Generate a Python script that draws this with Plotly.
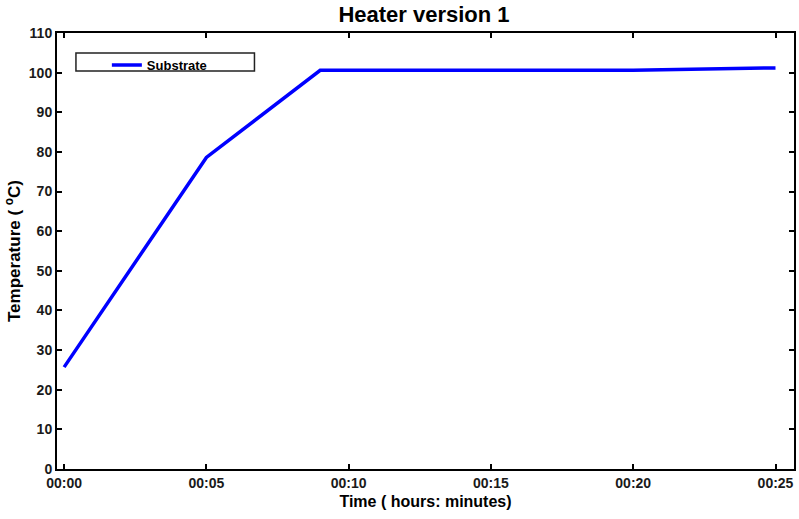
import plotly.graph_objects as go

minutes = [0, 5, 9, 20, 25]
temperature = [25.7, 78.6, 100.6, 100.6, 101.2]
x_tick_vals = [0, 5, 10, 15, 20, 25]
x_tick_text = ["00:00", "00:05", "00:10", "00:15", "00:20", "00:25"]
series_name = "Substrate"

font_fam = "Liberation Sans, Arial, sans-serif"

fig = go.Figure()
fig.add_trace(go.Scatter(x=minutes, y=temperature, mode="lines", name=series_name,
                         line=dict(color="#0000ff", width=3.5)))

axis_common = dict(showline=True, linecolor="black", linewidth=2, mirror="ticks",
                   ticks="inside", ticklen=5, tickwidth=1.5, tickcolor="black",
                   showgrid=False, zeroline=False,
                   tickfont=dict(family=font_fam, size=14, color="#1a1a1a", weight="bold"))

fig.update_layout(
    width=799, height=519,
    margin=dict(l=57, r=3, t=33, b=50),
    paper_bgcolor="white", plot_bgcolor="white",
    title=dict(text="Heater version 1", x=424/799, xanchor="center", y=1 - 14/519, yanchor="middle",
               font=dict(family=font_fam, size=22, color="black", weight="bold")),
    xaxis=dict(range=[-0.25, 25.65], tickvals=x_tick_vals, ticktext=x_tick_text,
               title=dict(text="Time ( hours: minutes)", standoff=6,
                          font=dict(family=font_fam, size=16, color="black", weight="bold")),
               **axis_common),
    yaxis=dict(range=[0, 110], dtick=10,
               title=dict(text="Temperature ( <sup>o</sup>C)", standoff=4,
                          font=dict(family=font_fam, size=17, color="black", weight="bold")),
               **axis_common),
    showlegend=True,
    legend=dict(x=(107 - 57) / 739, y=1 - (50 - 33) / 436, xanchor="left", yanchor="top",
                bgcolor="rgba(0,0,0,0)", borderwidth=0,
                font=dict(family=font_fam, size=13, color="black", weight="bold")),
    shapes=[dict(type="rect", xref="paper", yref="paper",
                 x0=(76-57)/739, x1=(255-57)/739, y0=(469-71)/436, y1=(469-53)/436,
                 line=dict(color="#222", width=1.5), fillcolor="rgba(0,0,0,0)")],
)
fig.write_html("out.html", config={"displayModeBar": False},
               post_script="document.body.style.margin='0';")
